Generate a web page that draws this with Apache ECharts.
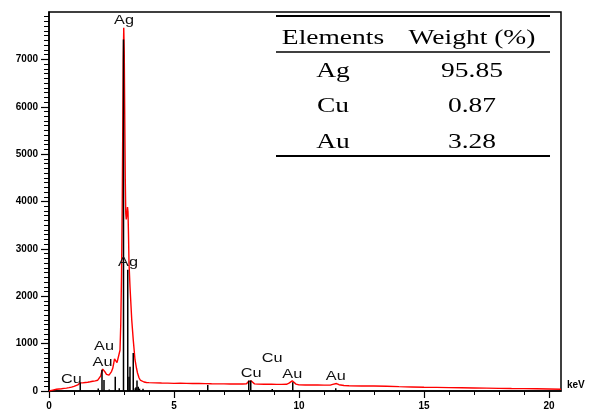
<!DOCTYPE html>
<html><head><meta charset="utf-8">
<script src="https://cdn.jsdelivr.net/npm/echarts@6/dist/echarts.min.js"></script>
<style>html,body{margin:0;padding:0;background:#fff}#c{width:591px;height:413px}</style>
</head><body><div id="c"></div>
<script>
// EDS spectrum (keV vs counts)
const spectrumKeV = [0.00,0.08,0.15,0.22,0.30,0.40,0.50,0.60,0.70,0.80,0.90,1.00,1.08,1.15,1.20,1.25,1.30,1.35,1.45,1.55,1.65,1.75,1.85,1.95,2.02,2.07,2.11,2.15,2.18,2.21,2.25,2.30,2.35,2.40,2.45,2.50,2.55,2.59,2.62,2.65,2.68,2.72,2.76,2.80,2.84,2.87,2.90,2.93,2.95,2.97,2.99,3.01,3.03,3.05,3.07,3.09,3.11,3.14,3.16,3.18,3.20,3.24,3.28,3.31,3.37,3.44,3.50,3.54,3.60,3.65,3.72,3.80,3.90,4.00,4.25,4.50,4.75,5.00,5.25,5.50,5.75,6.00,6.25,6.50,6.75,7.00,7.25,7.50,7.75,7.90,7.97,8.03,8.08,8.14,8.22,8.35,8.60,8.90,9.10,9.30,9.50,9.60,9.68,9.73,9.80,9.88,10.00,10.25,10.50,10.75,11.00,11.25,11.35,11.43,11.50,11.60,11.80,12.00,12.50,13.00,13.50,14.00,14.50,15.00,15.50,16.00,16.50,17.00,17.50,18.00,18.50,19.00,19.50,20.00,20.48];
const spectrumCounts = [0,2,18,32,36,42,48,55,60,70,82,98,112,130,150,172,168,172,180,186,195,205,215,228,255,320,410,462,472,445,395,350,328,335,365,410,480,590,680,700,665,600,585,640,860,1400,2400,4000,5500,7000,7665,7150,5800,4500,3750,3620,3700,3880,3780,3300,2700,2200,1800,1500,1080,660,480,380,280,232,205,190,180,176,172,168,166,162,165,160,158,158,155,152,150,150,148,147,148,152,195,222,215,185,150,145,142,146,140,140,142,165,205,215,180,145,130,128,126,126,124,124,140,160,158,132,115,110,107,105,100,92,86,80,76,72,68,64,60,56,52,50,46,42,36];

// element line markers
const markerKeV =    [1.25,1.97,2.12,2.20,2.41,2.65,2.81,2.98,3.15,3.20,3.24,3.37,3.45,3.48,3.52,3.57,3.62,3.76,6.35,7.99,8.07,8.93,9.75,11.47,11.60];
const markerCounts = [180, 55, 450, 230, 30, 300, 60, 7420,2560,300, 510, 800, 60,  80,  220, 90,  50,  50,  125, 220, 220, 40,  185, 60,   20];

// peak labels
const peakLabelNames  = ['Ag','Ag','Au','Au','Cu','Cu','Cu','Au','Au'];
const peakLabelKeV    = [3.00,3.16,2.20,2.14,0.90,8.09,8.93,9.73,11.47];
const peakLabelCounts = [7830,2720,935,605,250,373,690,350,302];

// axis ticks
const xMajorTicks = [0,5,10,15,20];
const xMinorTicks = [1,2,3,4,6,7,8,9,11,12,13,14,16,17,18,19];
const yMajorTicks = [0,1000,2000,3000,4000,5000,6000,7000];
const yMinorTicks = [];
for (let v = 100; v < 8000; v += 100) yMinorTicks.push(v);

// inset table
const tableHeaders = ['Elements','Weight (%)'];
const tableElements = ['Ag','Cu','Au'];
const tableWeights = ['95.85','0.87','3.28'];

const chart = echarts.init(document.getElementById('c'));
const axisFont = {color:'#000', fontWeight:'bold', fontSize:10, fontFamily:'Liberation Sans'};
const blackLine = {color:'#000', width:1.5};
const plain = v => String(v);

const colX = [333, 472];
const rowY = [71, 106.5, 142];
const serif = '22px "Liberation Serif"';
const stretch = 1.25;
const graphics = [
  {type:'line', shape:{x1:276,y1:16,x2:550,y2:16}, style:{stroke:'#000', lineWidth:2}},
  {type:'line', shape:{x1:276,y1:52,x2:550,y2:52}, style:{stroke:'#000', lineWidth:1.5}},
  {type:'line', shape:{x1:276,y1:156,x2:550,y2:156}, style:{stroke:'#000', lineWidth:2}}
];
tableHeaders.forEach((h,i)=>graphics.push({type:'text', x:colX[i], y:38, scaleX:stretch,
  style:{text:h, font:serif, fill:'#000', align:'center', verticalAlign:'middle'}}));
tableElements.forEach((e,i)=>{
  graphics.push({type:'text', x:colX[0], y:rowY[i], scaleX:stretch,
    style:{text:e, font:serif, fill:'#000', align:'center', verticalAlign:'middle'}});
  graphics.push({type:'text', x:colX[1], y:rowY[i], scaleX:stretch,
    style:{text:tableWeights[i], font:serif, fill:'#000', align:'center', verticalAlign:'middle'}});
});

chart.setOption({
  animation:false,
  backgroundColor:'#fff',
  grid:{left:49, right:30, top:12, bottom:22, show:true, borderColor:'#000', borderWidth:1.5},
  xAxis:[
    {type:'value', min:0, max:20.48, position:'bottom',
     axisLine:{lineStyle:blackLine},
     axisTick:{customValues:xMajorTicks, length:7, lineStyle:{color:'#000', width:1.2}},
     axisLabel:Object.assign({customValues:xMajorTicks, margin:10, formatter:plain}, axisFont),
     splitLine:{show:false},
     name:'keV', nameLocation:'end', nameGap:6,
     nameTextStyle:Object.assign({verticalAlign:'bottom', align:'left', padding:[0,0,1,0]}, axisFont)},
    {type:'value', min:0, max:20.48, position:'bottom',
     axisLine:{show:false},
     axisTick:{customValues:xMinorTicks, length:4, lineStyle:{color:'#000', width:1}},
     axisLabel:{show:false}, splitLine:{show:false}}
  ],
  yAxis:[
    {type:'value', min:0, max:8000, position:'left',
     axisLine:{show:true, lineStyle:blackLine},
     axisTick:{show:true, customValues:yMajorTicks, length:8, lineStyle:{color:'#000', width:1.2}},
     axisLabel:Object.assign({customValues:yMajorTicks, margin:11, formatter:plain}, axisFont),
     splitLine:{show:false}},
    {type:'value', min:0, max:8000, position:'left',
     axisLine:{show:false},
     axisTick:{show:true, customValues:yMinorTicks, length:5, lineStyle:{color:'#000', width:1}},
     axisLabel:{show:false}, splitLine:{show:false}}
  ],
  graphic:graphics,
  series:[
    {type:'line', xAxisIndex:0, yAxisIndex:0, showSymbol:false, silent:true,
     data:spectrumKeV.map((k,i)=>[k, spectrumCounts[i]]),
     lineStyle:{color:'#ff0000', width:1.4}, z:2},
    {type:'custom', xAxisIndex:0, yAxisIndex:0, silent:true, z:3,
     data:markerKeV.map((k,i)=>[k, markerCounts[i]]),
     renderItem:(params, api)=>{
       const p0 = api.coord([api.value(0), 0]);
       const p1 = api.coord([api.value(0), api.value(1)]);
       return {type:'line', shape:{x1:p0[0], y1:p0[1], x2:p1[0], y2:p1[1]}, style:{stroke:'#000', lineWidth:1.5}};
     }},
    {type:'custom', xAxisIndex:0, yAxisIndex:0, silent:true, z:4,
     data:peakLabelKeV.map((k,i)=>[k, peakLabelCounts[i]]),
     renderItem:(params, api)=>{
       const p = api.coord([api.value(0), api.value(1)]);
       return {type:'text', x:p[0], y:p[1], scaleX:1.25,
         style:{text:peakLabelNames[params.dataIndex], font:'13px "Liberation Sans"', fill:'#111', align:'center', verticalAlign:'middle'}};
     }}
  ]
});
</script></body></html>
